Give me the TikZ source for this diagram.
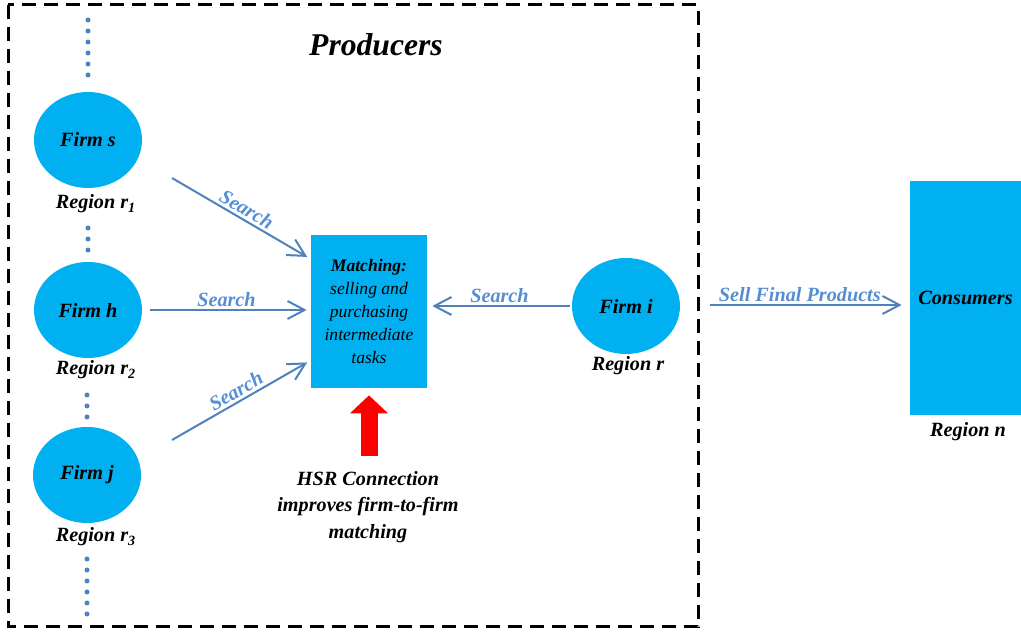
\documentclass[tikz,border=0pt]{standalone}
\usepackage{fontspec}
\setmainfont{Liberation Serif}
\usepackage{tikz}
\usetikzlibrary{shapes.geometric}
\usetikzlibrary{arrows.meta}
\tikzset{>={Straight Barb[width=3.6mm,length=3.4mm]}}
\definecolor{firmcyan}{RGB}{0,176,240}
\definecolor{linkblue}{RGB}{79,129,189}
\definecolor{searchblue}{RGB}{85,142,213}

\begin{document}
\begin{tikzpicture}[
    x = 0.2mm, y = -0.2mm,
    firm/.style = {ellipse, fill=firmcyan, minimum width=21.6mm,
        minimum height=19.2mm, font=\fontsize{11.5}{13}\selectfont\bfseries\itshape},
    region/.style = {font=\fontsize{11.5}{13}\selectfont\bfseries\itshape},
    search/.style = {->, draw=linkblue, line width=0.4mm},
    lbl/.style = {font=\fontsize{11.5}{13}\selectfont\bfseries\itshape,
        text=searchblue, inner sep=1.5pt},
    hsrarrow/.style = {-{Triangle[width=7.4mm,length=3.6mm]}, draw=red,
        fill=red, line width=3.4mm}
  ]
  \useasboundingbox (0,0) rectangle (1021,635);

  % producers frame
  \draw[line width=0.6mm, dash pattern=on 2.8mm off 1.6mm] (8,5) rectangle (698,627);
  \node[font=\fontsize{18}{20}\selectfont\bfseries\itshape] (prod) at (376,45) {Producers};

  % firms in other regions
  \node[firm] (s) at (88,140) {Firm s};
  \node[region] (rs) at (96,204) {Region r\textsubscript{1}};
  \node[firm] (h) at (88,310) {Firm h};
  \node[region] (rh) at (96,370) {Region r\textsubscript{2}};
  \node[firm] (j) at (87,475) {Firm j};
  \node[region] (rj) at (96,537) {Region r\textsubscript{3}};

  \foreach \y in {20,31,...,76} \fill[linkblue] (88,\y) circle (0.5mm);
  \foreach \y in {228,239,250} \fill[linkblue] (88,\y) circle (0.5mm);
  \foreach \y in {395,406,417} \fill[linkblue] (87,\y) circle (0.5mm);
  \foreach \y in {559,570,...,615} \fill[linkblue] (87,\y) circle (0.5mm);

  \node[fill=firmcyan, minimum width=23.2mm, minimum height=30.6mm, align=center,
      font=\fontsize{10}{13}\selectfont\itshape] (m) at (369,311.5)
      {\textbf{Matching:}\\selling and\\purchasing\\intermediate\\tasks};

  \node[firm] (i) at (626,306) {Firm i};
  \node[region] (ri) at (628,366) {Region r};

  \node[fill=firmcyan, minimum width=22.2mm, minimum height=46.8mm,
      font=\fontsize{11.5}{13}\selectfont\bfseries\itshape] (c) at (965.5,298) {Consumers};
  \node[region] (rc) at (968,432) {Region n};

  \node[region, align=center, font=\fontsize{11.5}{15}\selectfont\bfseries\itshape] (hsr) at (368,507)
      {HSR Connection\\improves firm-to-firm\\matching};

  \coordinate (t1) at (172,178);
  \coordinate (t3) at (172,440);
  \coordinate (t5) at (710,305);
  \coordinate (hsrtail) at (369,456);

  \draw[search, shorten >=0.8mm] (t1) -- (m.138) node[lbl, midway, above, sloped] {Search};
  \draw[search, shorten <=1.6mm, shorten >=0.8mm] (h.east) -- (h.east -| m.west) node[lbl, midway, above] {Search};
  \draw[search, shorten >=0.8mm] (t3) -- (m.220) node[lbl, midway, above, sloped] {Search};
  \draw[search, shorten <=0.4mm, shorten >=1mm] (i.west) -- (i.west -| m.east) node[lbl, midway, above] {Search};
  \draw[search, shorten >=1.6mm] (t5) -- (t5 -| c.west) node[lbl, pos=0.45, above] {Sell Final Products};

  \draw[hsrarrow, shorten >=1.4mm] (hsrtail) -- (m.south);
\end{tikzpicture}
\end{document}
